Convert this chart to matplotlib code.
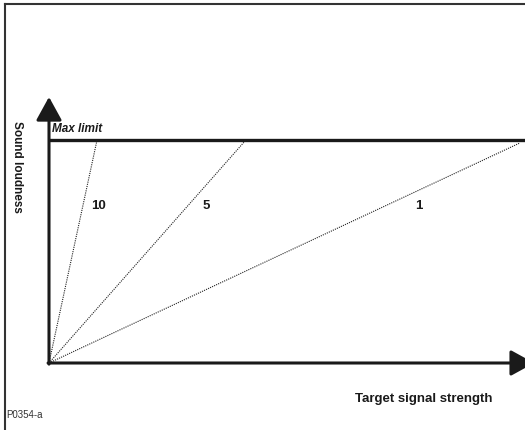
import matplotlib
matplotlib.use("Agg")
import matplotlib.pyplot as plt
from matplotlib.lines import Line2D

# gain curves: label, end point (target strength, loudness), label position
gains = ["10", "5", "1"]
end_x = [0.102, 0.418, 1.0]
end_y = [1.0, 1.0, 0.987]
label_x = [0.106, 0.333, 0.786]
label_y = [0.709, 0.709, 0.709]

max_limit = 1.0
y_axis_top = 1.193
x_axis_end = 1.03

FONTS = ["Liberation Sans Narrow", "Liberation Sans", "DejaVu Sans"]
INK = "#1a1a1a"

fig = plt.figure(figsize=(5.25, 4.31), dpi=100)
ax = fig.add_axes([0, 0, 1, 1])
ax.set_xlim(-49 / 471, 476 / 471)
ax.set_ylim(-67 / 223, 364 / 223)
ax.axis("off")

# outer frame (only top and left are visible)
fig.add_artist(Line2D([5 / 525, 1], [1 - 5 / 431, 1 - 5 / 431], color="#333333", lw=1.5))
fig.add_artist(Line2D([5 / 525, 5 / 525], [0, 1 - 5 / 431], color="#333333", lw=1.5))

# axes with arrows
arrow = dict(arrowstyle="-|>,head_length=0.8,head_width=0.44", lw=2.2,
             color=INK, shrinkA=0, shrinkB=0, mutation_scale=18)
ax.annotate("", xy=(0, y_axis_top), xytext=(0, -0.005), arrowprops=arrow)
ax.annotate("", xy=(x_axis_end, 0), xytext=(-0.002, 0), arrowprops=arrow,
            annotation_clip=False)

# max limit
ax.plot([0, 1.02], [max_limit, max_limit], color=INK, lw=2.4, solid_capstyle="butt")
ax.text(0.006, max_limit + 0.028, "Max limit", fontsize=8.5, fontweight="bold",
        fontstyle="italic", family=FONTS, color=INK, va="bottom", ha="left")

# gain lines
for g, ex, ey, lx, ly in zip(gains, end_x, end_y, label_x, label_y):
    ax.plot([0, ex], [0, ey], color="#222222", lw=0.8, linestyle=(0, (1, 1)))
    ax.text(lx, ly, g, fontsize=9.5, fontweight="bold", family=FONTS,
            color=INK, ha="center", va="center")

# labels
ax.text(-0.068, 0.883, "Sound loudness", rotation=-90, fontsize=8.5, fontweight="bold",
        family=FONTS, color=INK, ha="center", va="center")
ax.text(0.796, -0.157, "Target signal strength", fontsize=9.5, fontweight="bold",
        family=FONTS, color=INK, ha="center", va="center")
fig.text(6 / 525, 1 - 415 / 431, "P0354-a", fontsize=7, family=["Liberation Sans", "DejaVu Sans"],
         color="#333333", ha="left", va="center")

fig.savefig("out.png", dpi=100)
